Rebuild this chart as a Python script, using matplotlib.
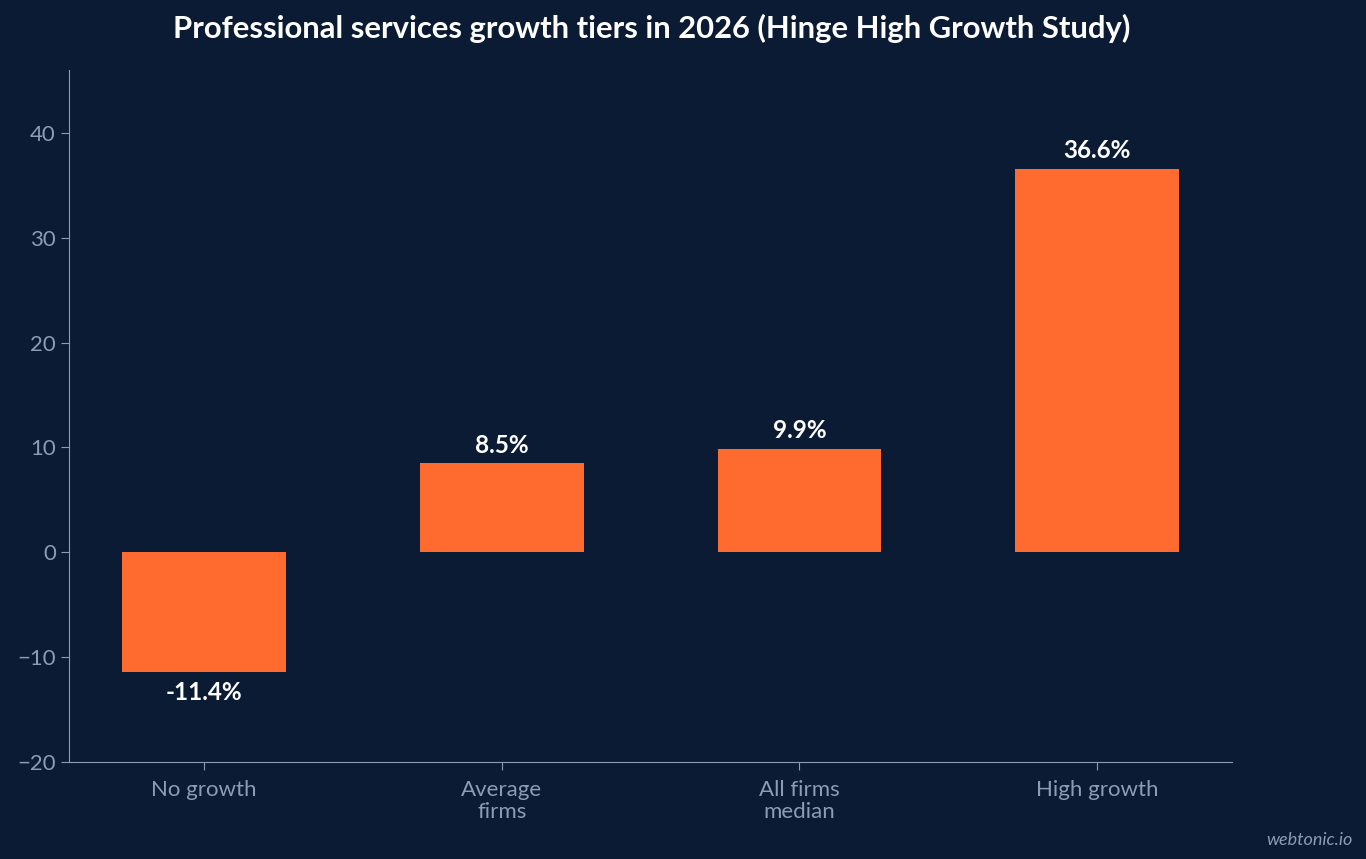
import matplotlib.pyplot as plt

categories = ["No growth", "Average\nfirms", "All firms\nmedian", "High growth"]
values = [-11.4, 8.5, 9.9, 36.6]
labels = ["-11.4%", "8.5%", "9.9%", "36.6%"]

BG = "#0b1b33"
BAR = "#ff6b2e"
MUTED = "#8d9bb5"

plt.rcParams['font.family'] = ['Lato', 'DejaVu Sans']

fig = plt.figure(figsize=(13.66, 8.59), dpi=100, facecolor=BG)
ax = fig.add_axes([0.0505, 0.1129, 0.8515, 0.8056], facecolor=BG)

x = range(len(categories))
ax.bar(x, values, width=0.55, color=BAR)
for i, (v, lab) in enumerate(zip(values, labels)):
    if v >= 0:
        ax.text(i, v + 0.6, lab, ha='center', va='bottom', color='white',
                fontsize=17.5, fontweight='bold')
    else:
        ax.text(i, v - 0.9, lab, ha='center', va='top', color='white',
                fontsize=17.5, fontweight='bold')

ax.set_xlim(-0.454, 3.454)
ax.set_ylim(-20, 46)
ax.set_yticks([-20, -10, 0, 10, 20, 30, 40])
ax.set_xticks(list(x))
ax.set_xticklabels(categories, linespacing=1.15)
ax.tick_params(colors=MUTED, labelsize=16, length=6)
ax.tick_params(axis='x', pad=7)
for s in ['top', 'right']:
    ax.spines[s].set_visible(False)
for s in ['left', 'bottom']:
    ax.spines[s].set_color(MUTED)

fig.text(0.477, 0.967, "Professional services growth tiers in 2026 (Hinge High Growth Study)",
         ha='center', va='center', color='white', fontsize=22.3, fontweight='bold')
fig.text(0.99, 0.022, "webtonic.io", ha='right', va='center', color=MUTED,
         fontsize=13, style='italic')

fig.savefig("out.png", dpi=100, facecolor=BG)
